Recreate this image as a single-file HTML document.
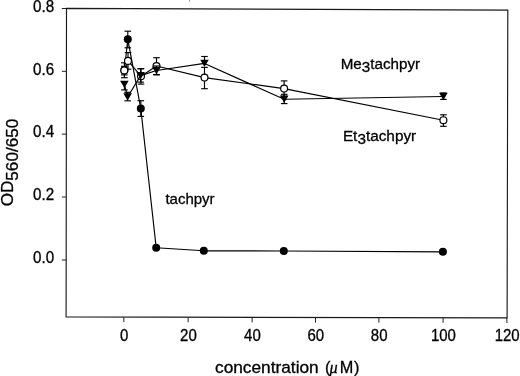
<!DOCTYPE html>
<html><head><meta charset="utf-8"><style>
html,body{margin:0;padding:0;background:#fff;width:520px;height:376px;overflow:hidden}
svg{display:block;filter:blur(0.35px)}
</style></head><body>
<svg width="520" height="376" viewBox="0 0 520 376" font-family="'Liberation Sans', sans-serif" fill="#000"><style>text{stroke:#000;stroke-width:0.3px}</style>
<polygon points="66.5,8.4 507.8,10.1 507.1,317.9 66.1,316.9" fill="none" stroke="#1a1a1a" stroke-width="1.15" stroke-linejoin="miter"/>
<rect x="189.1" y="0" width="0.9" height="1.6" fill="#888"/>
<line x1="61.80" y1="260.00" x2="66.30" y2="260.00" stroke="#222" stroke-width="1.0"/>
<text x="54.2" y="263.3" text-anchor="end" font-size="15.6" textLength="21.1" lengthAdjust="spacingAndGlyphs">0.0</text>
<line x1="61.80" y1="197.00" x2="66.30" y2="197.00" stroke="#222" stroke-width="1.0"/>
<text x="54.2" y="200.3" text-anchor="end" font-size="15.6" textLength="21.1" lengthAdjust="spacingAndGlyphs">0.2</text>
<line x1="61.80" y1="134.10" x2="66.30" y2="134.10" stroke="#222" stroke-width="1.0"/>
<text x="54.2" y="137.4" text-anchor="end" font-size="15.6" textLength="21.1" lengthAdjust="spacingAndGlyphs">0.4</text>
<line x1="61.80" y1="71.30" x2="66.30" y2="71.30" stroke="#222" stroke-width="1.0"/>
<text x="54.2" y="74.6" text-anchor="end" font-size="15.6" textLength="21.1" lengthAdjust="spacingAndGlyphs">0.6</text>
<line x1="61.80" y1="8.50" x2="66.30" y2="8.50" stroke="#222" stroke-width="1.0"/>
<text x="54.2" y="11.8" text-anchor="end" font-size="15.6" textLength="21.1" lengthAdjust="spacingAndGlyphs">0.8</text>
<line x1="123.80" y1="317.13" x2="123.80" y2="322.13" stroke="#222" stroke-width="1.0"/>
<text x="124.1" y="340.6" text-anchor="middle" font-size="15.6" textLength="8.34" lengthAdjust="spacingAndGlyphs">0</text>
<line x1="188.10" y1="317.28" x2="188.10" y2="322.28" stroke="#222" stroke-width="1.0"/>
<text x="188.4" y="340.7" text-anchor="middle" font-size="15.6" textLength="16.68" lengthAdjust="spacingAndGlyphs">20</text>
<line x1="252.10" y1="317.42" x2="252.10" y2="322.42" stroke="#222" stroke-width="1.0"/>
<text x="252.4" y="340.8" text-anchor="middle" font-size="15.6" textLength="16.68" lengthAdjust="spacingAndGlyphs">40</text>
<line x1="315.50" y1="317.57" x2="315.50" y2="322.57" stroke="#222" stroke-width="1.0"/>
<text x="315.8" y="341.0" text-anchor="middle" font-size="15.6" textLength="16.68" lengthAdjust="spacingAndGlyphs">60</text>
<line x1="378.90" y1="317.71" x2="378.90" y2="322.71" stroke="#222" stroke-width="1.0"/>
<text x="379.2" y="341.1" text-anchor="middle" font-size="15.6" textLength="16.68" lengthAdjust="spacingAndGlyphs">80</text>
<line x1="443.10" y1="317.86" x2="443.10" y2="322.86" stroke="#222" stroke-width="1.0"/>
<text x="443.4" y="341.2" text-anchor="middle" font-size="15.6" textLength="25.02" lengthAdjust="spacingAndGlyphs">100</text>
<line x1="506.90" y1="318.00" x2="506.90" y2="323.00" stroke="#222" stroke-width="1.0"/>
<text x="507.2" y="341.3" text-anchor="middle" font-size="15.6" textLength="25.02" lengthAdjust="spacingAndGlyphs">120</text>
<polyline points="124.4,70.3 127.8,39.3 140.8,108.6 156.2,247.7 203.8,250.8 283.8,251.0 442.9,251.8" fill="none" stroke="#000" stroke-width="1.15" stroke-linejoin="round"/>
<line x1="124.40" y1="70.30" x2="124.40" y2="62.80" stroke="#000" stroke-width="1.15"/><line x1="121.10" y1="62.80" x2="127.70" y2="62.80" stroke="#000" stroke-width="1.15"/><line x1="124.40" y1="70.30" x2="124.40" y2="77.70" stroke="#000" stroke-width="1.15"/><line x1="121.10" y1="77.70" x2="127.70" y2="77.70" stroke="#000" stroke-width="1.15"/><line x1="127.80" y1="39.30" x2="127.80" y2="31.20" stroke="#000" stroke-width="1.15"/><line x1="124.50" y1="31.20" x2="131.10" y2="31.20" stroke="#000" stroke-width="1.15"/><line x1="127.80" y1="39.30" x2="127.80" y2="47.80" stroke="#000" stroke-width="1.15"/><line x1="124.50" y1="47.80" x2="131.10" y2="47.80" stroke="#000" stroke-width="1.15"/><line x1="140.80" y1="108.60" x2="140.80" y2="100.70" stroke="#000" stroke-width="1.15"/><line x1="137.50" y1="100.70" x2="144.10" y2="100.70" stroke="#000" stroke-width="1.15"/><line x1="140.80" y1="108.60" x2="140.80" y2="116.40" stroke="#000" stroke-width="1.15"/><line x1="137.50" y1="116.40" x2="144.10" y2="116.40" stroke="#000" stroke-width="1.15"/>
<circle cx="124.4" cy="70.3" r="4.0" fill="#000"/><circle cx="127.8" cy="39.3" r="4.0" fill="#000"/><circle cx="140.8" cy="108.6" r="4.0" fill="#000"/><circle cx="156.2" cy="247.7" r="4.0" fill="#000"/><circle cx="203.8" cy="250.8" r="4.0" fill="#000"/><circle cx="283.8" cy="251.0" r="4.0" fill="#000"/><circle cx="442.9" cy="251.8" r="4.0" fill="#000"/>
<polyline points="124.3,70.4 128.0,60.9 141.0,76.2 156.5,66.0 204.5,77.6 284.1,88.6 443.4,120.2" fill="none" stroke="#000" stroke-width="1.15" stroke-linejoin="round"/>
<line x1="124.30" y1="70.40" x2="124.30" y2="66.30" stroke="#000" stroke-width="1.15"/><line x1="121.00" y1="66.30" x2="127.60" y2="66.30" stroke="#000" stroke-width="1.15"/><line x1="124.30" y1="70.40" x2="124.30" y2="74.90" stroke="#000" stroke-width="1.15"/><line x1="121.00" y1="74.90" x2="127.60" y2="74.90" stroke="#000" stroke-width="1.15"/><line x1="128.00" y1="60.90" x2="128.00" y2="52.60" stroke="#000" stroke-width="1.15"/><line x1="124.70" y1="52.60" x2="131.30" y2="52.60" stroke="#000" stroke-width="1.15"/><line x1="128.00" y1="60.90" x2="128.00" y2="69.20" stroke="#000" stroke-width="1.15"/><line x1="124.70" y1="69.20" x2="131.30" y2="69.20" stroke="#000" stroke-width="1.15"/><line x1="141.00" y1="76.20" x2="141.00" y2="68.60" stroke="#000" stroke-width="1.15"/><line x1="137.70" y1="68.60" x2="144.30" y2="68.60" stroke="#000" stroke-width="1.15"/><line x1="141.00" y1="76.20" x2="141.00" y2="84.10" stroke="#000" stroke-width="1.15"/><line x1="137.70" y1="84.10" x2="144.30" y2="84.10" stroke="#000" stroke-width="1.15"/><line x1="156.50" y1="66.00" x2="156.50" y2="57.70" stroke="#000" stroke-width="1.15"/><line x1="153.20" y1="57.70" x2="159.80" y2="57.70" stroke="#000" stroke-width="1.15"/><line x1="156.50" y1="66.00" x2="156.50" y2="74.50" stroke="#000" stroke-width="1.15"/><line x1="153.20" y1="74.50" x2="159.80" y2="74.50" stroke="#000" stroke-width="1.15"/><line x1="204.50" y1="77.60" x2="204.50" y2="67.40" stroke="#000" stroke-width="1.15"/><line x1="201.20" y1="67.40" x2="207.80" y2="67.40" stroke="#000" stroke-width="1.15"/><line x1="204.50" y1="77.60" x2="204.50" y2="88.70" stroke="#000" stroke-width="1.15"/><line x1="201.20" y1="88.70" x2="207.80" y2="88.70" stroke="#000" stroke-width="1.15"/><line x1="284.10" y1="88.60" x2="284.10" y2="80.90" stroke="#000" stroke-width="1.15"/><line x1="280.80" y1="80.90" x2="287.40" y2="80.90" stroke="#000" stroke-width="1.15"/><line x1="284.10" y1="88.60" x2="284.10" y2="96.30" stroke="#000" stroke-width="1.15"/><line x1="280.80" y1="96.30" x2="287.40" y2="96.30" stroke="#000" stroke-width="1.15"/><line x1="443.40" y1="120.20" x2="443.40" y2="114.80" stroke="#000" stroke-width="1.15"/><line x1="440.10" y1="114.80" x2="446.70" y2="114.80" stroke="#000" stroke-width="1.15"/><line x1="443.40" y1="120.20" x2="443.40" y2="126.30" stroke="#000" stroke-width="1.15"/><line x1="440.10" y1="126.30" x2="446.70" y2="126.30" stroke="#000" stroke-width="1.15"/>
<circle cx="124.3" cy="70.4" r="3.45" fill="#fff" stroke="#000" stroke-width="1.2"/><circle cx="128.0" cy="60.9" r="3.45" fill="#fff" stroke="#000" stroke-width="1.2"/><circle cx="141.0" cy="76.2" r="3.45" fill="#fff" stroke="#000" stroke-width="1.2"/><circle cx="156.5" cy="66.0" r="3.45" fill="#fff" stroke="#000" stroke-width="1.2"/><circle cx="204.5" cy="77.6" r="3.45" fill="#fff" stroke="#000" stroke-width="1.2"/><circle cx="284.1" cy="88.6" r="3.45" fill="#fff" stroke="#000" stroke-width="1.2"/><circle cx="443.4" cy="120.2" r="3.45" fill="#fff" stroke="#000" stroke-width="1.2"/>
<polyline points="124.4,84.4 127.6,97.0 140.6,75.6 156.5,70.5 204.5,63.4 284.2,99.3 443.4,96.5" fill="none" stroke="#000" stroke-width="1.15" stroke-linejoin="round"/>
<line x1="124.40" y1="84.40" x2="124.40" y2="89.90" stroke="#000" stroke-width="1.15"/><line x1="121.10" y1="89.90" x2="127.70" y2="89.90" stroke="#000" stroke-width="1.15"/><line x1="127.60" y1="97.00" x2="127.60" y2="92.30" stroke="#000" stroke-width="1.15"/><line x1="124.30" y1="92.30" x2="130.90" y2="92.30" stroke="#000" stroke-width="1.15"/><line x1="127.60" y1="97.00" x2="127.60" y2="100.80" stroke="#000" stroke-width="1.15"/><line x1="124.30" y1="100.80" x2="130.90" y2="100.80" stroke="#000" stroke-width="1.15"/><line x1="140.60" y1="75.60" x2="140.60" y2="68.80" stroke="#000" stroke-width="1.15"/><line x1="137.30" y1="68.80" x2="143.90" y2="68.80" stroke="#000" stroke-width="1.15"/><line x1="140.60" y1="75.60" x2="140.60" y2="82.10" stroke="#000" stroke-width="1.15"/><line x1="137.30" y1="82.10" x2="143.90" y2="82.10" stroke="#000" stroke-width="1.15"/><line x1="156.50" y1="70.50" x2="156.50" y2="66.00" stroke="#000" stroke-width="1.15"/><line x1="153.20" y1="66.00" x2="159.80" y2="66.00" stroke="#000" stroke-width="1.15"/><line x1="156.50" y1="70.50" x2="156.50" y2="74.90" stroke="#000" stroke-width="1.15"/><line x1="153.20" y1="74.90" x2="159.80" y2="74.90" stroke="#000" stroke-width="1.15"/><line x1="204.50" y1="63.40" x2="204.50" y2="56.50" stroke="#000" stroke-width="1.15"/><line x1="201.20" y1="56.50" x2="207.80" y2="56.50" stroke="#000" stroke-width="1.15"/><line x1="284.20" y1="99.30" x2="284.20" y2="94.30" stroke="#000" stroke-width="1.15"/><line x1="280.90" y1="94.30" x2="287.50" y2="94.30" stroke="#000" stroke-width="1.15"/><line x1="284.20" y1="99.30" x2="284.20" y2="103.60" stroke="#000" stroke-width="1.15"/><line x1="280.90" y1="103.60" x2="287.50" y2="103.60" stroke="#000" stroke-width="1.15"/><line x1="443.40" y1="96.50" x2="443.40" y2="93.00" stroke="#000" stroke-width="1.15"/><line x1="440.10" y1="93.00" x2="446.70" y2="93.00" stroke="#000" stroke-width="1.15"/><line x1="443.40" y1="96.50" x2="443.40" y2="99.40" stroke="#000" stroke-width="1.15"/><line x1="440.10" y1="99.40" x2="446.70" y2="99.40" stroke="#000" stroke-width="1.15"/>
<polygon points="120.10,80.68 128.70,80.68 124.40,88.12" fill="#000"/><polygon points="123.30,93.28 131.90,93.28 127.60,100.72" fill="#000"/><polygon points="136.30,71.88 144.90,71.88 140.60,79.32" fill="#000"/><polygon points="152.20,66.78 160.80,66.78 156.50,74.22" fill="#000"/><polygon points="200.20,59.68 208.80,59.68 204.50,67.12" fill="#000"/><polygon points="279.90,95.58 288.50,95.58 284.20,103.02" fill="#000"/><polygon points="439.10,92.78 447.70,92.78 443.40,100.22" fill="#000"/>
<text x="340.7" y="68.8" font-size="15.2">Me<tspan dy="3.1">3</tspan><tspan dy="-3.1">tachpyr</tspan></text>
<text x="342.9" y="141.2" font-size="15.2" textLength="73.3" lengthAdjust="spacingAndGlyphs">Et<tspan dy="3.1">3</tspan><tspan dy="-3.1">tachpyr</tspan></text>
<text x="165.4" y="204.1" font-size="15">tachpyr</text>
<text y="372.5" font-size="16.3"><tspan x="215" textLength="103.7" lengthAdjust="spacingAndGlyphs">concentration</tspan><tspan x="325">(</tspan><tspan x="329.6" font-style="italic" font-family="'Liberation Serif', serif">μ</tspan><tspan x="339.8">M</tspan><tspan x="354.1">)</tspan></text>
<text transform="translate(13.3,206.3) rotate(-90)" font-size="16" textLength="87.5" lengthAdjust="spacingAndGlyphs">OD<tspan dy="4.8">560/650</tspan></text>
</svg>
</body></html>
